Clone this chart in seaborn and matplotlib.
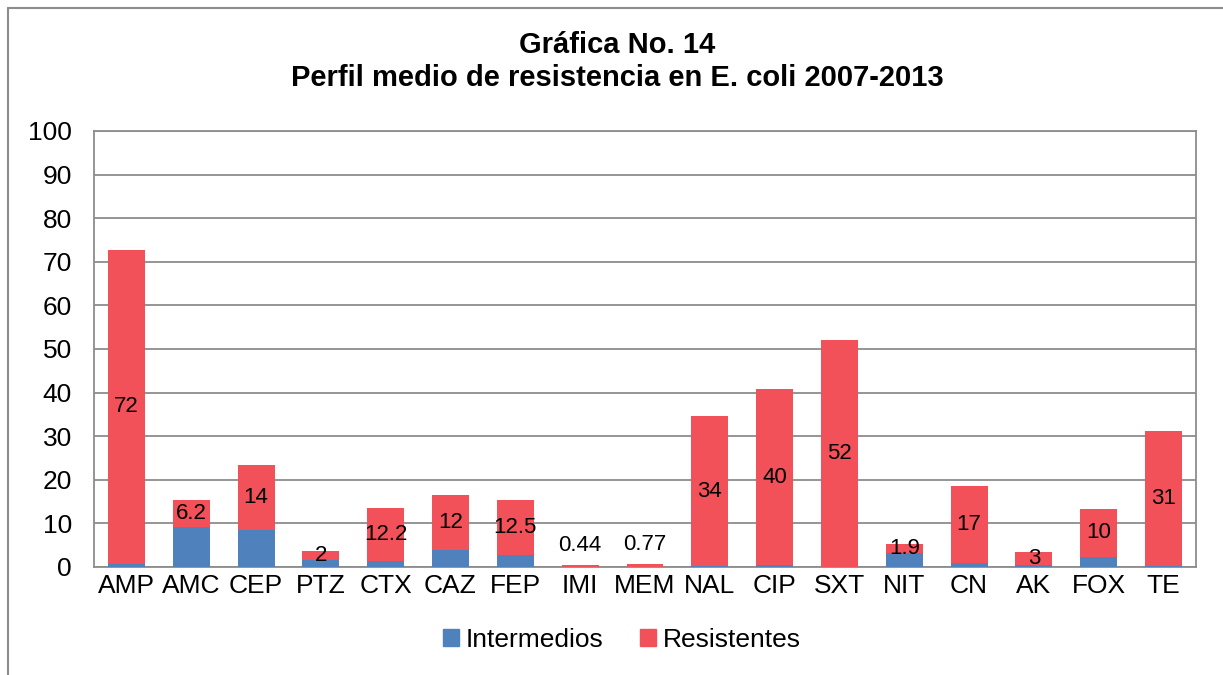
import numpy as np
import pandas as pd
import matplotlib
matplotlib.use('Agg')
import matplotlib.pyplot as plt
from matplotlib.patches import Rectangle
from matplotlib.lines import Line2D
import seaborn as sns

# datos
antibioticos = ['AMP', 'AMC', 'CEP', 'PTZ', 'CTX', 'CAZ', 'FEP', 'IMI', 'MEM',
                'NAL', 'CIP', 'SXT', 'NIT', 'CN', 'AK', 'FOX', 'TE']
intermedios = [0.7, 9.2, 8.6, 1.7, 1.4, 4.0, 2.8, 0.0, 0.0,
               0.2, 0.4, 0.0, 3.3, 1.0, 0.4, 2.4, 0.3]
resistentes = [72.0, 6.2, 14.7, 2.0, 12.2, 12.5, 12.5, 0.44, 0.77,
               34.4, 40.4, 52.0, 1.9, 17.5, 3.0, 10.8, 31.0]
etiquetas = ['72', '6.2', '14', '2', '12.2', '12', '12.5', '0.44', '0.77',
             '34', '40', '52', '1.9', '17', '3', '10', '31']

azul = '#4F81BD'
rojo = '#F3515A'

df = pd.DataFrame({'ab': antibioticos, 'inter': intermedios, 'res': resistentes})
df['total'] = df['inter'] + df['res']

sns.set_style('white')
plt.rcParams['font.family'] = ['Liberation Sans', 'DejaVu Sans']

fig = plt.figure(figsize=(12.23, 6.75), dpi=100)
ax = fig.add_axes([94 / 1223, 1 - 567 / 675, (1196 - 94) / 1223, (567 - 131) / 675])

# barras apiladas: total en rojo y encima los intermedios en azul
sns.barplot(data=df, x='ab', y='total', color=rojo, width=0.57, ax=ax,
            saturation=1, zorder=3, linewidth=0)
sns.barplot(data=df, x='ab', y='inter', color=azul, width=0.57, ax=ax,
            saturation=1, zorder=4, linewidth=0)

# etiquetas en el centro del tramo rojo
for i, (b, r, t) in enumerate(zip(intermedios, resistentes, etiquetas)):
    y = b + r / 2
    if r < 1.5:
        y = b + r + 4.5
    ax.text(i, y, t, ha='center', va='center', fontsize=16, color='black', zorder=5)

ax.set_ylim(0, 100)
ax.set_xlim(-0.5, len(antibioticos) - 0.5)
ax.set_yticks(range(0, 101, 10))
ax.yaxis.grid(True, color='#8C8C8C', linewidth=1.3, zorder=0)
ax.set_axisbelow(True)
ax.set_xlabel('')
ax.set_ylabel('')
ax.tick_params(axis='both', labelsize=19, length=0, labelcolor='black')
ax.tick_params(axis='y', pad=16)
ax.tick_params(axis='x', pad=5)
for s in ax.spines.values():
    s.set_color('#8C8C8C')
    s.set_linewidth(1.3)

fig.text(617 / 1223, 1 - 45 / 675, 'Gráfica No. 14', ha='center', va='center',
         fontsize=21, fontweight='bold', color='black')
fig.text(617 / 1223, 1 - 78 / 675, 'Perfil medio de resistencia en E. coli 2007-2013',
         ha='center', va='center', fontsize=21, fontweight='bold', color='black')

# leyenda abajo
h = [Rectangle((0, 0), 1, 1, color=azul), Rectangle((0, 0), 1, 1, color=rojo)]
leg = fig.legend(h, ['Intermedios', 'Resistentes'], loc='center',
                 bbox_to_anchor=(622 / 1223, 1 - 640 / 675), ncol=2, frameon=False,
                 fontsize=19, handlelength=0.6, handleheight=0.6, handletextpad=0.25,
                 columnspacing=1.4)
for t in leg.get_texts():
    t.set_color('black')

# marco exterior (solo se ve arriba y a la izquierda)
fig.lines.append(Line2D([8 / 1223, 1], [1 - 7.5 / 675, 1 - 7.5 / 675],
                        transform=fig.transFigure, color='#8C8C8C', linewidth=1.5))
fig.lines.append(Line2D([8 / 1223, 8 / 1223], [0, 1 - 7.5 / 675],
                        transform=fig.transFigure, color='#8C8C8C', linewidth=1.5))

fig.savefig('out.png', dpi=100)
